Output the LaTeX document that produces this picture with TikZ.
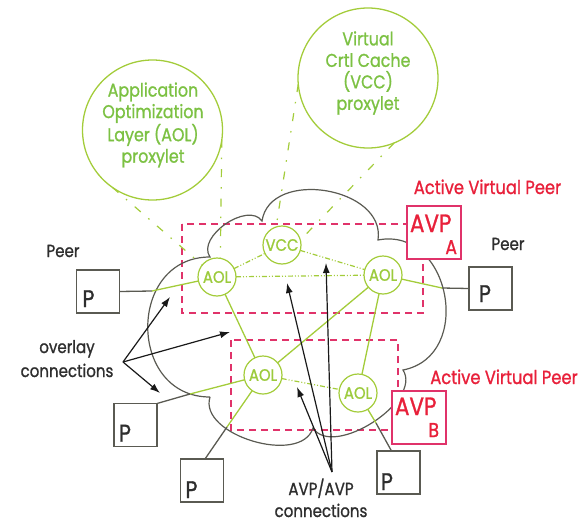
\documentclass[tikz,border=0pt]{standalone}
\usepackage{fontspec}
\setmainfont{Poppins}[FakeBold=1.2]
\usetikzlibrary{arrows.meta}
\definecolor{lg}{HTML}{A3CC3A}
\definecolor{tg}{HTML}{7CC143}
\definecolor{ng}{HTML}{9CCB3C}
\definecolor{gr}{HTML}{5A5A52}
\definecolor{rd}{HTML}{E8203A}
\definecolor{pk}{HTML}{E0336A}
\definecolor{tx}{HTML}{2E2E2E}
\begin{document}
\begin{tikzpicture}[x=1pt,y=-1pt,
  every node/.style={inner sep=0pt,outer sep=0pt},
  txt/.style={xscale=0.86,anchor=base},
  bigc/.style={circle,draw=lg,line width=1.3pt,minimum size=140pt},
  bigtxt/.style={xscale=0.86,text=tg,align=center,font=\fontsize{18.5}{21.5}\selectfont},
  aol/.style={circle,draw=lg,line width=1.2pt,minimum size=38pt,fill=white,text=ng,font=\fontsize{16.5}{16.5}\selectfont},
  pbox/.style={draw=gr,line width=1.4pt,minimum width=43pt,minimum height=43pt},
  ptxt/.style={txt,anchor=base west,text=tx,font=\fontsize{24}{24}\selectfont},
  avpbox/.style={draw=pk,line width=1.4pt,fill=white,minimum width=54pt,minimum height=53pt},
  avptxt/.style={txt,anchor=base west,text=rd,font=\fontsize{25}{25}\selectfont},
  avpsub/.style={txt,anchor=base east,text=rd,font=\fontsize{20}{20}\selectfont},
  redlab/.style={txt,text=rd,font=\fontsize{19}{19}\selectfont},
  blab/.style={txt,text=tx,font=\fontsize{17.5}{17.5}\selectfont},
  reddash/.style={draw=pk,line width=1.2pt,dash pattern=on 7pt off 5pt},
  cloudline/.style={draw=gr,line width=1.2pt},
  glink/.style={draw=lg,line width=1.3pt},
  gdot/.style={draw=lg,line width=1.2pt,dash pattern=on 5pt off 2pt on 1pt off 2pt on 1pt off 2pt},
  callout/.style={draw=lg,line width=1.2pt,dash pattern=on 8pt off 10pt on 1.5pt off 10pt},
  plink/.style={draw=gr,line width=1.3pt},
  arr/.style={draw=black!90,line width=1.2pt,-{Latex[length=10pt,width=7pt]}}]
\useasboundingbox (0,0) rectangle (584,525);

% dashed AVP regions
\draw[reddash] (182,224) rectangle (423,313);
\draw[reddash] (231,340) rectangle (398,430);

% cloud
\draw[cloudline] (210,397) .. controls (127,397) and (127,257) .. (210,257)
  .. controls (196,237) and (248,201) .. (262,221)
  .. controls (270,168) and (386,187) .. (378,240)
  .. controls (450,226) and (475,356) .. (403,370)
  .. controls (423,401) and (333,459) .. (313,428)
  .. controls (301,466) and (198,435) .. (210,397);

% callout circles
\node[bigc] (aolc) at (152.5,130) {};
\node[bigc] (vccc) at (368,78) {};
\node[bigtxt] at (153,125) {Application\\Optimization\\Layer (AOL)\\proxylet};
\node[bigtxt] at (368,73) {Virtual\\Crtl Cache\\(VCC)\\proxylet};

% overlay nodes
\node[aol] (a1) at (217,277) {\scalebox{0.9}[1]{AOL}};
\node[aol] (vcc) at (282,245) {\scalebox{0.9}[1]{VCC}};
\node[aol] (a2) at (383,275) {\scalebox{0.9}[1]{AOL}};
\node[aol] (a3) at (263,375) {\scalebox{0.9}[1]{AOL}};
\node[aol] (a4) at (358,393) {\scalebox{0.9}[1]{AOL}};

% callout lines
\draw[callout] (aolc.-125) -- (a1.141);
\draw[callout] (aolc.-8) -- (a1.80);
\draw[callout] (vccc.185) -- (vcc.108);
\draw[callout] (vccc.-68) -- (vcc.15);

% green links
\draw[glink] (a1) -- (a3);
\draw[glink] (a2) -- (a3);
\draw[glink] (a2) -- (a4);
\draw[gdot] (a1) -- (vcc);
\draw[gdot] (vcc) -- (a2);
\draw[gdot] (a1) -- (a2);
\draw[gdot] (a3) -- (a4);

% peers
\node[pbox] (p1) at (98,291.5) {};
\node[pbox] (p2) at (490.5,288.5) {};
\node[pbox] (p3) at (135.5,425) {};
\node[pbox] (p4) at (202,480.5) {};
\node[pbox] (p5) at (398.5,472.5) {};
\node[ptxt] at ([shift={(6,-6)}]p1.south west) {P};
\node[ptxt] at ([shift={(10,-8)}]p2.south west) {P};
\node[ptxt] at ([shift={(5,-5)}]p3.south west) {P};
\node[ptxt] at ([shift={(5,-4)}]p4.south west) {P};
\node[ptxt] at ([shift={(4,-4)}]p5.south west) {P};

\coordinate (x1) at (152,291);
\coordinate (x2) at (442,288);
\coordinate (x3) at (190,394);
\coordinate (x4) at (227,427);
\coordinate (x5) at (376,423);
\draw[plink] (p1.east) -- (x1);
\draw[glink] (x1) -- (a1);
\draw[plink] (p2.west) -- (x2);
\draw[glink] (x2) -- (a2);
\draw[plink] (p3.north east) -- (x3);
\draw[glink] (x3) -- (a3);
\draw[plink] ([xshift=3pt]p4.north) -- (x4);
\draw[glink] (x4) -- (a3);
\draw[plink] ([xshift=-7pt]p5.north) -- (x5);
\draw[glink] (x5) -- (a4);

\node[blab] at (63,257) {Peer};
\node[blab] at (508,250) {Peer};

% AVP boxes
\node[avpbox] (avpa) at (434,232.5) {};
\node[avpbox] (avpb) at (419,417.5) {};
\node[avptxt] at ([shift={(3,-27)}]avpa.south west) {AVP};
\node[avpsub] at ([shift={(-4,-5)}]avpa.south east) {A};
\node[avptxt] at ([shift={(3,-29)}]avpb.south west) {AVP};
\node[avpsub] at ([shift={(-7,-7)}]avpb.south east) {B};
\node[redlab] at (487.5,194) {Active Virtual Peer};
\node[redlab] at (504,384) {Active Virtual Peer};

% overlay connections
\coordinate (ov) at (123,362);
\coordinate (t1) at (170,297);
\coordinate (t2) at (230,332);
\coordinate (t3) at (160,393);
\draw[arr] (ov) -- (t1);
\draw[arr] (ov) -- (t2);
\draw[arr] (ov) -- (t3);
\node[blab] at (67,353) {overlay};
\node[blab] at (67,377) {connections};

% AVP/AVP connections
\coordinate (av) at (332,472);
\coordinate (u1) at (287,283);
\coordinate (u2) at (326,263);
\coordinate (u3) at (297,387);
\draw[arr] (av) -- (u1);
\draw[arr] (av) -- (u2);
\draw[arr] (av) -- (u3);
\node[blab] at (321,495) {AVP/AVP};
\node[blab] at (321,517) {connections};
\end{tikzpicture}
\end{document}
